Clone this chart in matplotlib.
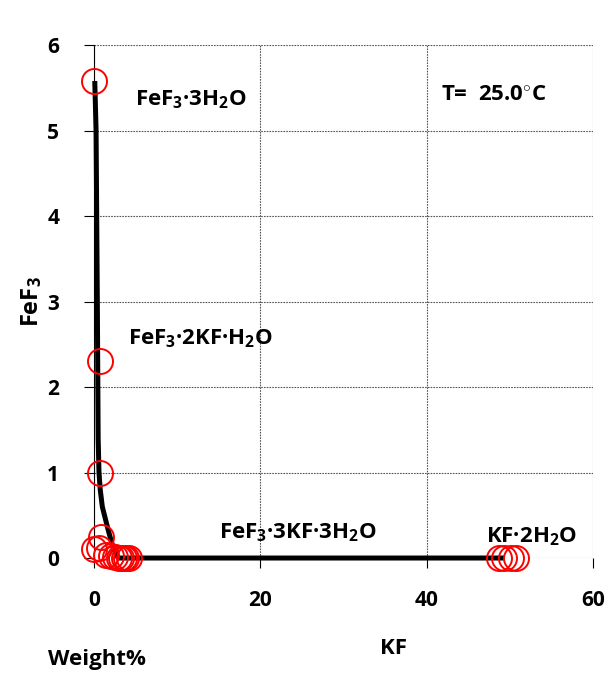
import matplotlib
matplotlib.use("Agg")
import matplotlib.pyplot as plt

plt.rcParams['font.family'] = ['Open Sans', 'DejaVu Sans']
plt.rcParams['font.weight'] = 'bold'
plt.rcParams['mathtext.fontset'] = 'custom'
plt.rcParams['mathtext.rm'] = 'Open Sans:bold'
plt.rcParams['mathtext.it'] = 'Open Sans:bold'
plt.rcParams['mathtext.bf'] = 'Open Sans:bold'

# experimental points (wt% KF, wt% FeF3)
kf_pts = [0.0, 0.7, 0.7, 0.9, 0.0, 0.6, 1.5, 2.0, 2.5, 3.0, 3.3, 3.6, 3.9, 4.2,
          48.7, 49.3, 50.2, 50.8]
fef3_pts = [5.58, 2.30, 1.00, 0.25, 0.10, 0.12, 0.03, 0.02, 0.01, 0.0, 0.0, 0.0, 0.0, 0.0,
            0.0, 0.0, 0.0, 0.0]

# solubility curve
kf_line = [0.1, 0.25, 0.4, 0.5, 0.6, 0.75, 1.0, 1.7, 2.3, 2.9, 49.0]
fef3_line = [5.55, 5.0, 3.0, 1.4, 1.0, 0.8, 0.6, 0.33, 0.12, 0.0, 0.0]

x_ticks = [0, 20, 40, 60]
y_ticks = [0, 1, 2, 3, 4, 5, 6]

fig = plt.figure(figsize=(6.08, 6.75), dpi=100)
ax = fig.add_axes([0.1546, 0.1733, 0.8207, 0.76])

ax.plot(kf_line, fef3_line, color='black', linewidth=3.6, zorder=3)
ax.plot(kf_pts, fef3_pts, linestyle='none', marker='o', markersize=18,
        markerfacecolor='none', markeredgecolor='red', markeredgewidth=1.4, zorder=4)

ax.set_xlim(0, 60)
ax.set_ylim(0, 6)
ax.set_xticks(x_ticks)
ax.set_xticklabels([str(t) for t in x_ticks], fontsize=15, fontweight='bold')
ax.set_yticks(y_ticks)
ax.set_yticklabels([str(t) for t in y_ticks], fontsize=15, fontweight='bold')
ax.grid(True, linestyle=(0, (1.5, 1)), color='#555555', linewidth=0.8)
for s in ['top', 'right', 'bottom']:
    ax.spines[s].set_visible(False)
ax.spines['left'].set_linewidth(0.8)
ax.tick_params(axis='both', length=7, width=0.8)
ax.tick_params(axis='x', pad=16)
ax.tick_params(axis='y', pad=18)
for ln in ax.lines:
    ln.set_clip_on(False)

fs = 16
ax.text(4.9, 5.36, r'FeF$_3$·3H$_2$O', fontsize=fs, fontweight='bold', va='center')
ax.text(41.7, 5.41, r'T=  25.0$^{\circ}$C', fontsize=fs, fontweight='bold', va='center')
ax.text(4.1, 2.57, r'FeF$_3$·2KF·H$_2$O', fontsize=fs, fontweight='bold', va='center')
ax.text(15.0, 0.30, r'FeF$_3$·3KF·3H$_2$O', fontsize=fs, fontweight='bold', va='center')
ax.text(47.1, 0.25, r'KF·2H$_2$O', fontsize=fs, fontweight='bold', va='center')

ax.set_ylabel(r'FeF$_3$', fontsize=17, fontweight='bold', labelpad=2)
fig.text(393 / 608, 1 - 648 / 675, 'KF', fontsize=16, fontweight='bold', ha='center', va='center')
fig.text(97 / 608, 1 - 660 / 675, 'Weight%', fontsize=16, fontweight='bold', ha='center', va='center')

fig.savefig('out.png', dpi=100)
